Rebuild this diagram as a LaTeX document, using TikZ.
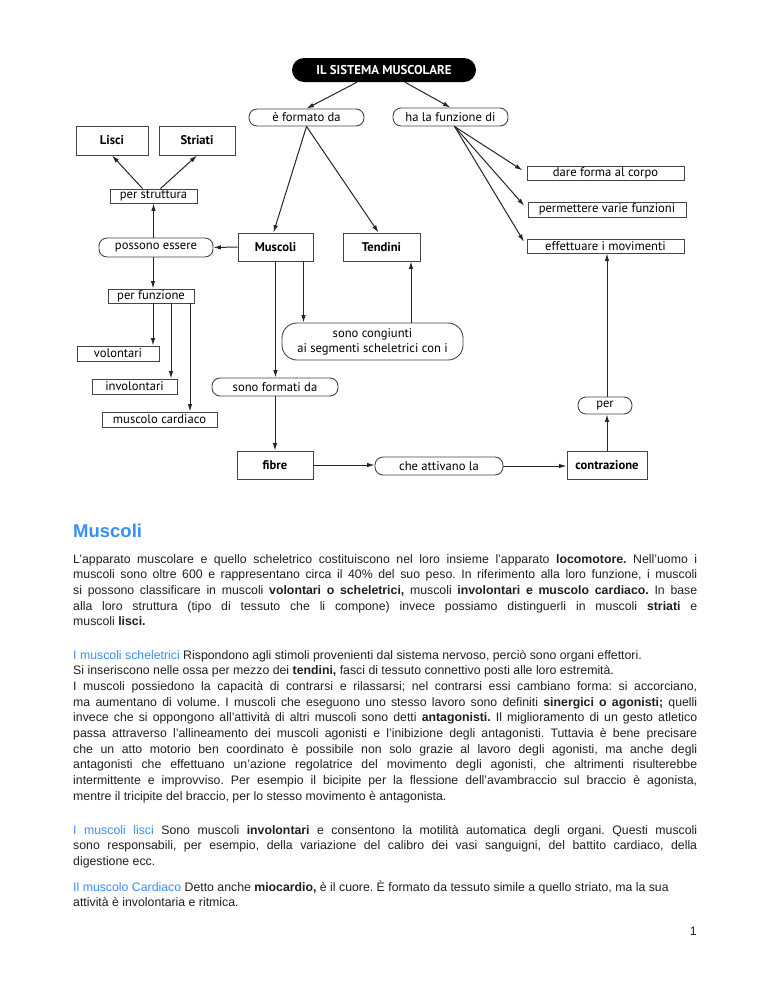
\documentclass[tikz,border=0pt]{standalone}
\usepackage{fontspec}
\setmainfont{Liberation Sans}
\newfontfamily\mapfont{PT Sans}
\usetikzlibrary{arrows.meta}
\definecolor{headblue}{HTML}{3B8EF2}
\definecolor{bodytext}{HTML}{202020}
\definecolor{boxline}{HTML}{454545}
\tikzset{
  % Set arrowhead
  >={Latex[length=7.5pt,width=4.5pt]},
  % Plain concept box
  cbox/.style={draw=boxline, line width=0.9pt, inner sep=0pt,
    font=\mapfont\fontsize{12.6}{14}\selectfont},
  % Key concept box, bold
  kbox/.style={cbox, font=\mapfont\bfseries\fontsize{12.6}{14}\selectfont},
  % Linking phrase
  link/.style={cbox, rounded corners=8pt},
  % Connector
  arr/.style={->, line width=1pt, black!85},
  % Text paragraph
  para/.style={anchor=base west, inner sep=0pt, text width=624pt,
    align=justify, text=bodytext,
    font=\fontsize{12.3}{15.7}\selectfont\frenchspacing},
}
\begin{document}
\begin{tikzpicture}[x=1pt, y=-1pt]
  \fill[white] (0,0) rectangle (768,994);
  \useasboundingbox (0,0) rectangle (768,994);

  % concept map
  \node[fill=black, text=white, rounded corners=12pt, inner sep=0pt,
    minimum width=184pt, minimum height=24pt,
    font=\mapfont\bfseries\fontsize{12.8}{14}\selectfont]
    (title) at (384,70) {IL SISTEMA MUSCOLARE};

  \node[link, minimum width=115pt, minimum height=17pt] (formato) at (306.5,117.5) {è formato da};
  \node[link, minimum width=115pt, minimum height=18pt] (funzione) at (450.5,117) {ha la funzione di};

  \node[kbox, minimum width=72pt, minimum height=29pt] (lisci) at (112,140.5) {Lisci};
  \node[kbox, minimum width=76pt, minimum height=29pt] (striati) at (197,140.5) {Striati};
  \node[cbox, minimum width=87pt, minimum height=14pt] (struttura) at (153.5,196) {per struttura};
  \node[link, minimum width=114pt, minimum height=19pt] (possono) at (156,247.5) {possono essere};
  \node[kbox, minimum width=75pt, minimum height=28pt] (muscoli) at (275.5,247) {Muscoli};
  \node[kbox, minimum width=77pt, minimum height=28pt] (tendini) at (381.5,247) {Tendini};

  \node[cbox, minimum width=157pt, minimum height=14pt] (dare) at (605.5,173) {dare forma al corpo};
  \node[cbox, minimum width=158pt, minimum height=15pt] (permettere) at (607,209.5) {permettere varie funzioni};
  \node[cbox, minimum width=157pt, minimum height=14pt] (effettuare) at (605.5,246) {effettuare i movimenti};

  \node[cbox, minimum width=86pt, minimum height=14pt] (perfunzione) at (151,296) {per funzione};
  \node[cbox, minimum width=82pt, minimum height=15pt] (volontari) at (118,353.5) {volontari};
  \node[cbox, minimum width=85pt, minimum height=15pt] (involontari) at (134.5,386.5) {involontari};
  \node[cbox, minimum width=115pt, minimum height=15pt] (cardiaco) at (159.5,419.5) {muscolo cardiaco};

  \node[cbox, rounded corners=15pt, align=center, minimum width=181pt, minimum height=37pt,
    font=\mapfont\fontsize{12.6}{15}\selectfont]
    (congiunti) at (372.5,341.5) {sono congiunti\\ai segmenti scheletrici con i};
  \node[link, minimum width=126pt, minimum height=18pt] (sonoformati) at (275,387) {sono formati da};
  \node[kbox, minimum width=76pt, minimum height=28pt] (fibre) at (275,465) {fibre};
  \node[link, minimum width=128pt, minimum height=18pt] (attivano) at (439,466) {che attivano la};
  \node[kbox, minimum width=80pt, minimum height=28pt] (contrazione) at (607,465) {contrazione};
  \node[link, minimum width=54pt, minimum height=17pt] (per) at (605,405.5) {per};

  % connectors
  \draw[arr] ([xshift=-27pt]title.south) -- (formato.north);
  \draw[arr] ([xshift=21pt]title.south) -- (funzione.north);
  \draw[arr] (formato.south) -- ([xshift=-2pt]muscoli.north);
  \draw[arr] (formato.south) -- ([xshift=-3pt]tendini.north);
  \draw[arr, shorten >=5pt] ([xshift=4pt]funzione.south) -- (dare.west);
  \draw[arr, shorten >=5pt] ([xshift=4pt]funzione.south) -- (permettere.west);
  \draw[arr, shorten >=5pt] ([xshift=4pt]funzione.south) -- (effettuare.west);

  \draw[arr] ([xshift=-11pt]struttura.north) -- (lisci.south);
  \draw[arr] ([xshift=7pt]struttura.north) -- (striati.south);
  \draw[arr] (struttura.south |- possono.north) -- (struttura.south);
  \draw[arr] (muscoli.west) -- (possono.east);
  \draw[arr] ([xshift=2pt]perfunzione.north |- possono.south) -- ([xshift=2pt]perfunzione.north);
  \draw[arr] ([xshift=2pt]perfunzione.south) -- ([xshift=2pt]perfunzione.south |- volontari.north);
  \draw[arr] ([xshift=20pt]perfunzione.south) -- ([xshift=20pt]perfunzione.south |- involontari.north);
  \draw[arr] ([xshift=39pt]perfunzione.south) -- ([xshift=39pt]perfunzione.south |- cardiaco.north);

  \draw[arr] (muscoli.south) -- (muscoli.south |- sonoformati.north);
  \draw[arr] ([xshift=28pt]muscoli.south) -- ([xshift=28pt]muscoli.south |- congiunti.north);
  \draw[arr] ([xshift=29.5pt]tendini.south |- congiunti.north) -- ([xshift=29.5pt]tendini.south);
  \draw[arr] (sonoformati.south) -- (sonoformati.south |- fibre.north);
  \draw[arr] (fibre.east) -- (fibre.east -| attivano.west);
  \draw[arr] (attivano.east) -- (attivano.east -| contrazione.west);
  \draw[arr] ([xshift=2pt]per.south |- contrazione.north) -- ([xshift=2pt]per.south);
  \draw[arr] ([xshift=2pt]per.north) -- ([xshift=2pt]per.north |- effettuare.south);

  % text
  \node[anchor=base west, inner sep=0pt, text=headblue,
    font=\bfseries\fontsize{18.5}{20}\selectfont] (heading) at (73,537) {Muscoli};

  \node[para] (intro) at (73,563) {L'apparato muscolare e quello scheletrico costituiscono nel loro insieme l'apparato \textbf{locomotore.} Nell'uomo i\linebreak
  muscoli sono oltre 600 e rappresentano circa il 40\% del suo peso. In riferimento alla loro funzione, i muscoli\linebreak
  si possono classificare in muscoli \textbf{volontari o scheletrici,} muscoli \textbf{involontari e muscolo cardiaco.} In base\linebreak
  alla loro struttura (tipo di tessuto che li compone) invece possiamo distinguerli in muscoli \textbf{striati} e\linebreak
  muscoli \textbf{lisci.}};

  \node[para] (scheletrici) at (73,659) {\textcolor{headblue}{I muscoli scheletrici} Rispondono agli stimoli provenienti dal sistema nervoso, perciò sono organi effettori.\newline
  Si inseriscono nelle ossa per mezzo dei \textbf{tendini,} fasci di tessuto connettivo posti alle loro estremità.\newline
  I muscoli possiedono la capacità di contrarsi e rilassarsi; nel contrarsi essi cambiano forma: si accorciano,\linebreak
  ma aumentano di volume. I muscoli che eseguono uno stesso lavoro sono definiti \textbf{sinergici o agonisti;} quelli\linebreak
  invece che si oppongono all'attività di altri muscoli sono detti \textbf{antagonisti.} Il miglioramento di un gesto atletico\linebreak
  passa attraverso l'allineamento dei muscoli agonisti e l'inibizione degli antagonisti. Tuttavia è bene precisare\linebreak
  che un atto motorio ben coordinato è possibile non solo grazie al lavoro degli agonisti, ma anche degli\linebreak
  antagonisti che effettuano un'azione regolatrice del movimento degli agonisti, che altrimenti risulterebbe\linebreak
  intermittente e improvviso. Per esempio il bicipite per la flessione dell'avambraccio sul braccio è agonista,\linebreak
  mentre il tricipite del braccio, per lo stesso movimento è antagonista.};

  \node[para] (lisciText) at (73,834) {\textcolor{headblue}{I muscoli lisci} Sono muscoli \textbf{involontari} e consentono la motilità automatica degli organi. Questi muscoli\linebreak
  sono responsabili, per esempio, della variazione del calibro dei vasi sanguigni, del battito cardiaco, della\linebreak
  digestione ecc.};

  \node[para] (cardiacoText) at (73,891) {\textcolor{headblue}{Il muscolo Cardiaco} Detto anche \textbf{miocardio,} è il cuore. È formato da tessuto simile a quello striato, ma la sua\newline
  attività è involontaria e ritmica.};

  \node[anchor=base east, inner sep=0pt, text=bodytext, font=\fontsize{12.3}{14}\selectfont]
    (pagenum) at (697,935) {1};
\end{tikzpicture}
\end{document}
